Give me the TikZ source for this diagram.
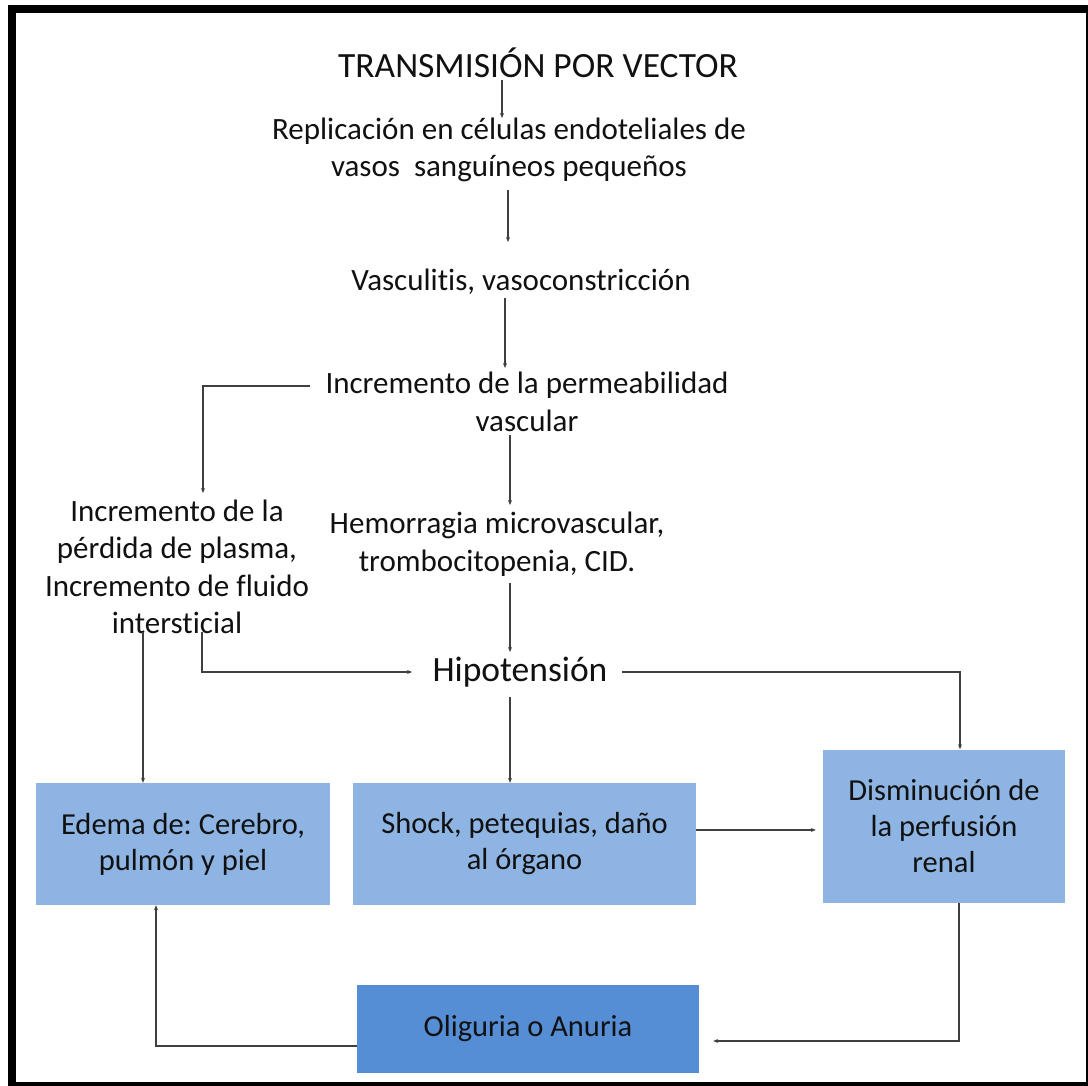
\documentclass[tikz,border=0pt]{standalone}
\usepackage{fontspec}
\setmainfont{Carlito}[Ligatures={NoCommon}]
\usetikzlibrary{arrows.meta,calc}
\definecolor{boxblue}{HTML}{8EB4E3}
\definecolor{darkblue}{HTML}{558ED5}
\definecolor{linegray}{HTML}{404040}
\definecolor{txtcol}{HTML}{111111}
\frenchspacing
\begin{document}
\begin{tikzpicture}[x=1pt,y=-1pt,
  txt/.style={align=center,inner sep=0pt,text=txtcol,font=\fontsize{31}{37.5}\selectfont},
  bigtxt/.style={align=center,inner sep=0pt,text=txtcol,font=\fontsize{35.5}{40}\selectfont},
  boxnode/.style={fill=boxblue,inner sep=0pt,align=center,text=txtcol,font=\fontsize{30.5}{36}\selectfont},
  darkbox/.style={fill=darkblue,inner sep=0pt,align=center,text=txtcol,font=\fontsize{30.5}{36}\selectfont},
  conn/.style={draw=linegray,line width=1.1pt,-{Stealth[length=5pt,width=4pt]}},
]
\useasboundingbox (0,0) rectangle (1088,1086);
% frame
\fill[black] (8,5) rectangle (1088,1086);
\fill[white] (16,13) rectangle (1086,1082);

% text nodes
\node[bigtxt] (t) at (538,63) {TRANSMISIÓN POR VECTOR};
\node[txt] (rep) at (509,150) {Replicación en células endoteliales de\\vasos\ \ sanguíneos pequeños};
\node[txt] (vas) at (521,282) {Vasculitis, vasoconstricción};
\node[txt] (inc) at (527,402) {Incremento de la permeabilidad\\vascular};
\node[txt] (left) at (177,567) {Incremento de la\\pérdida de plasma,\\Incremento de fluido\\intersticial};
\node[txt] (hem) at (497,544) {Hemorragia microvascular,\\trombocitopenia, CID.};
\node[bigtxt] (hip) at (520,672) {Hipotensión};

% boxes
\node[boxnode,minimum width=294pt,minimum height=122pt] (edema) at (183,844) {Edema de: Cerebro,\\pulmón y piel};
\node[boxnode,minimum width=343pt,minimum height=122pt] (shock) at (524.5,844) {Shock, petequias, daño\\al órgano};
\node[boxnode,minimum width=242pt,minimum height=153pt] (dis) at (944,826) {Disminución de\\la perfusión\\renal};
\node[darkbox,minimum width=342pt,minimum height=88pt] (olig) at (528,1029) {Oliguria o Anuria};

% connectors
\draw[conn] ($(t.center)+(-36,17)$) -- ($(rep.center)+(-7,-32)$);
\draw[conn] ($(rep.center)+(-1,40)$) -- ($(vas.center)+(-13,-40)$);
\draw[conn] ($(vas.center)+(-16,16)$) -- ($(inc.center)+(-22,-34)$);
\draw[conn] ($(inc.center)+(-217,-16)$) -| ($(left.center)+(26,-74)$);
\draw[conn] ($(inc.center)+(-17,33)$) -- ($(hem.center)+(13,-39)$);
\draw[conn] ($(hem.center)+(13,39)$) -- ($(hip.center)+(-10,-20)$);
\draw[conn] ($(left.center)+(25,65)$) |- ($(hip.center)+(-108,0)$);
\draw[conn] ($(left.center)+(-34,65)$) -- ($(edema.north)+(-40,0)$);
\draw[conn] ($(hip.center)+(-10,25)$) -- ($(shock.north)+(-14.5,0)$);
\draw[conn] ($(hip.center)+(102,0)$) -| ($(dis.north)+(16,0)$);
\draw[conn] ($(shock.east)+(0,-14)$) -- ($(dis.west)+(-7,4)$);
\draw[conn] ($(dis.south)+(15,0)$) |- ($(olig.east)+(14,12)$);
\draw[conn] ($(olig.west)+(0,17)$) -| ($(edema.south)+(-27,0)$);
\end{tikzpicture}
\end{document}
